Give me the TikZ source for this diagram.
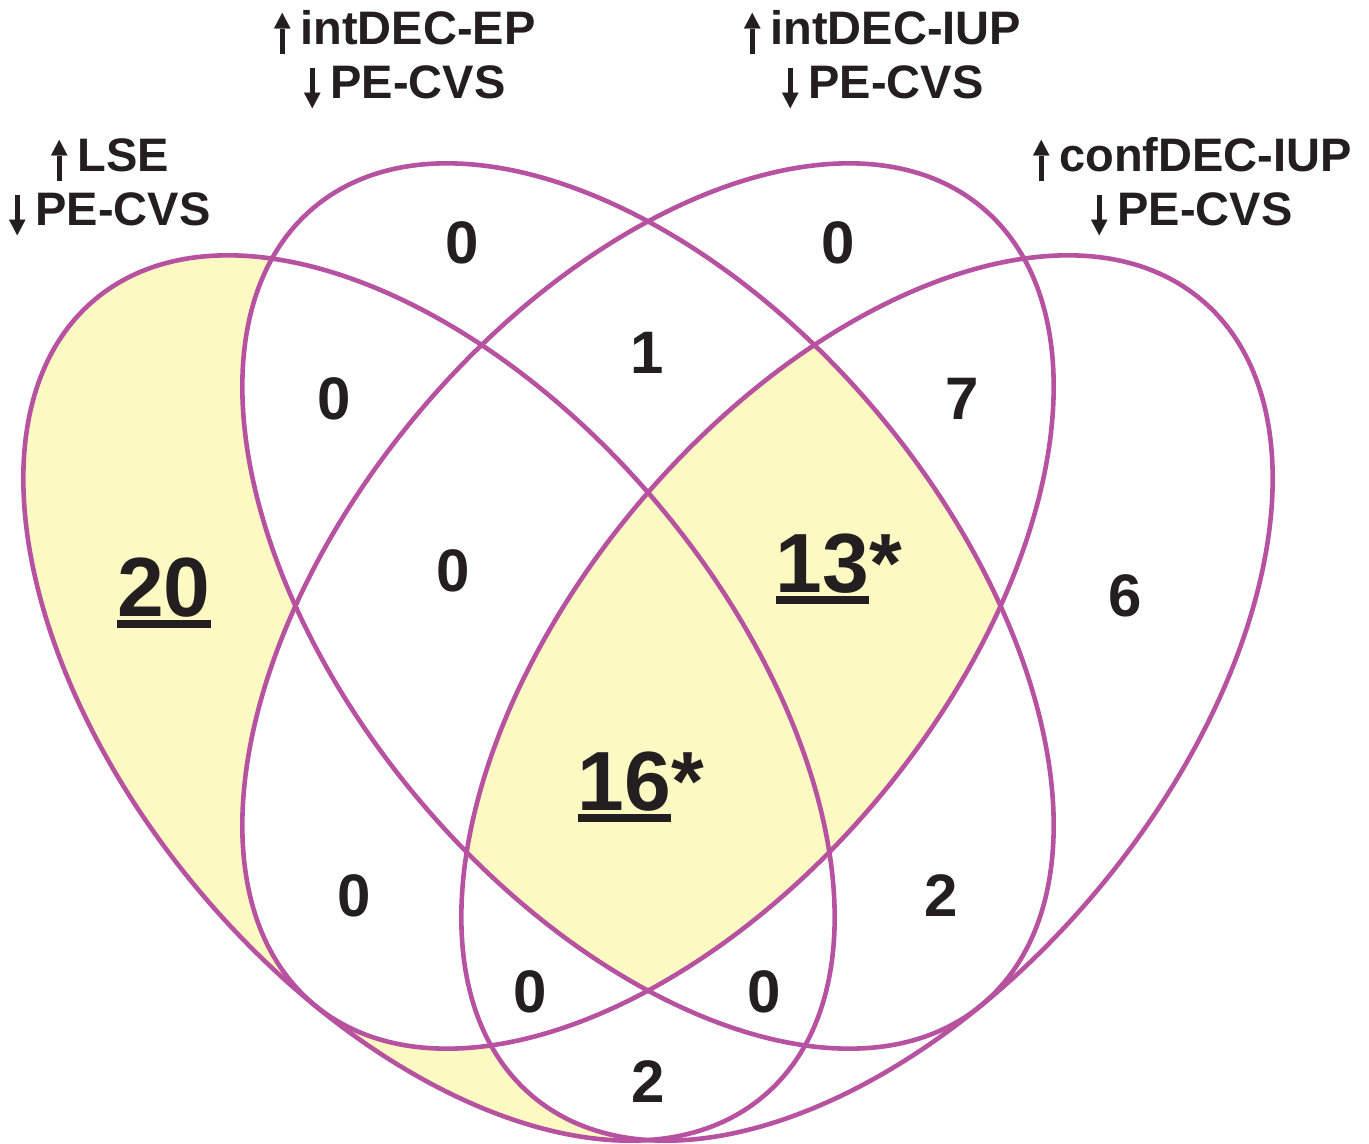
\documentclass[tikz,border=0pt]{standalone}
\usepackage{fontspec}
\setmainfont{Liberation Sans}
\newfontfamily\symfont{DejaVu Sans}
\definecolor{vline}{RGB}{183,82,160}
\definecolor{vfill}{RGB}{252,249,194}
\definecolor{vtext}{RGB}{35,31,32}
\newcommand\myul[1]{\vtop{\hbox{#1}\kern1.75pt\hrule height 4pt}}
\newcommand\headup{\raisebox{\depth}{\resizebox*{8.5pt}{8pt}{\symfont ▲}}}
\newcommand\headdn{\raisebox{\depth}{\resizebox*{8.5pt}{8pt}{\symfont ▼}}}
\newcommand\arrowup{\raisebox{-4.5pt}{\vbox{\offinterlineskip
  \hbox to 8.5pt{\hss\headup\hss}\hbox to 8.5pt{\hss\rule{2.4pt}{12.5pt}\hss}}}}
\newcommand\arrowdn{\raisebox{-5pt}{\vbox{\offinterlineskip
  \hbox to 8.5pt{\hss\rule{2.4pt}{12.5pt}\hss}\hbox to 8.5pt{\hss\headdn\hss}}}}
\newcommand\upar{\llap{\makebox[0pt]{\arrowup}\kern9pt}}
\newcommand\dnar{\llap{\makebox[0pt]{\arrowdn}\kern9pt}}
\begin{document}
\begin{tikzpicture}[x=0.5pt,y=-0.5pt,
  er/.style={x radius=260pt, y radius=150pt},
  eA/.style={rotate around={-50:(429,698)}},
  eB/.style={rotate around={-50:(648,606)}},
  eC/.style={rotate around={50:(648,606)}},
  eD/.style={rotate around={50:(867,698)}},
  setline/.style={draw=vline, line width=2.3pt},
  lbl/.style={anchor=base west, inner sep=0pt, text=vtext,
    font=\fontsize{23.5}{26}\selectfont\bfseries},
  num/.style={anchor=base, inner sep=0pt, text=vtext,
    font=\fontsize{30}{32}\selectfont\bfseries},
  bignum/.style={anchor=base, inner sep=0pt, text=vtext,
    font=\fontsize{42}{44}\selectfont\bfseries}]
\useasboundingbox (0,0) rectangle (1369,1144);
\fill[white] (0,0) rectangle (1369,1144);
% fills
\fill[vfill, eA] (429,698) ellipse [er];
\fill[white, eB] (648,606) ellipse [er];
\fill[white, eC] (648,606) ellipse [er];
\fill[white, eD] (867,698) ellipse [er];
\begin{scope}
  \clip[eB] (648,606) ellipse [er];
  \clip[eC] (648,606) ellipse [er];
  \clip[eD] (867,698) ellipse [er];
  \fill[vfill] (0,0) rectangle (1369,1144);
\end{scope}
% outlines
\draw[setline, eA] (429,698) ellipse [er];
\draw[setline, eB] (648,606) ellipse [er];
\draw[setline, eC] (648,606) ellipse [er];
\draw[setline, eD] (867,698) ellipse [er];
% set labels
\node[lbl] (tA1) at (77,172) {\upar LSE};
\node[lbl] (tA2) at (35,226) {\dnar PE-CVS};
\node[lbl] (tB1) at (300,45) {\upar intDEC-EP};
\node[lbl] (tB2) at (330,99) {\dnar PE-CVS};
\node[lbl] (tC1) at (770,45) {\upar intDEC-IUP};
\node[lbl] (tC2) at (808,99) {\dnar PE-CVS};
\node[lbl] (tD1) at (1059,172) {\upar confDEC-IUP};
\node[lbl] (tD2) at (1117,226) {\dnar PE-CVS};
% region counts
\node[num] (r1) at (462,264) {0};
\node[num] (r2) at (334,419) {0};
\node[num] (r3) at (647,373) {1};
\node[num] (r4) at (838,264) {0};
\node[num] (r5) at (962,419) {7};
\node[num] (r6) at (453,591) {0};
\node[num] (r7) at (1125,616) {6};
\node[num] (r8) at (354,916) {0};
\node[num] (r9) at (941,916) {2};
\node[num] (r10) at (530,1012) {0};
\node[num] (r11) at (764,1012) {0};
\node[num] (r12) at (648,1102) {2};
\node[bignum] (b1) at (164,616) {\myul{20}};
\node[bignum] (b2) at (839,592) {\myul{13}*};
\node[bignum] (b3) at (641,810) {\myul{16}*};
\end{tikzpicture}
\end{document}
